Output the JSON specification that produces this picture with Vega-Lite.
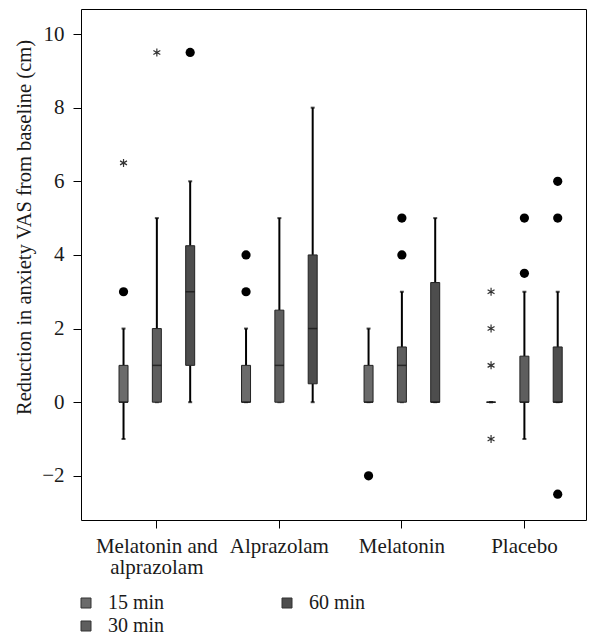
{
  "$schema": "https://vega.github.io/schema/vega-lite/v6.json",
  "autosize": {"type": "none"},
  "width": 505,
  "height": 511,
  "padding": {"left": 81, "top": 9, "right": 11, "bottom": 119},
  "background": "white",
  "config": {
    "font": "Liberation Serif",
    "view": {"stroke": "#000", "strokeWidth": 1},
    "axis": {"domain": false, "grid": false, "tickColor": "#000", "labelColor": "#1a1a1a", "titleColor": "#1a1a1a", "titleFontWeight": "normal", "labelFont": "Liberation Serif", "titleFont": "Liberation Serif"},
    "legend": {"labelColor": "#1a1a1a", "labelFont": "Liberation Serif"}
  },
  "datasets": {
    "boxes": [
      {"group": "Melatonin and alprazolam", "time": "15 min", "lower": -1, "q1": 0, "median": 0, "q3": 1, "upper": 2},
      {"group": "Melatonin and alprazolam", "time": "30 min", "lower": 0, "q1": 0, "median": 1, "q3": 2, "upper": 5},
      {"group": "Melatonin and alprazolam", "time": "60 min", "lower": 0, "q1": 1, "median": 3, "q3": 4.25, "upper": 6},
      {"group": "Alprazolam", "time": "15 min", "lower": 0, "q1": 0, "median": 0, "q3": 1, "upper": 2},
      {"group": "Alprazolam", "time": "30 min", "lower": 0, "q1": 0, "median": 1, "q3": 2.5, "upper": 5},
      {"group": "Alprazolam", "time": "60 min", "lower": 0, "q1": 0.5, "median": 2, "q3": 4, "upper": 8},
      {"group": "Melatonin", "time": "15 min", "lower": 0, "q1": 0, "median": 0, "q3": 1, "upper": 2},
      {"group": "Melatonin", "time": "30 min", "lower": 0, "q1": 0, "median": 1, "q3": 1.5, "upper": 3},
      {"group": "Melatonin", "time": "60 min", "lower": 0, "q1": 0, "median": 0, "q3": 3.25, "upper": 5},
      {"group": "Placebo", "time": "15 min", "lower": 0, "q1": 0, "median": 0, "q3": 0, "upper": 0},
      {"group": "Placebo", "time": "30 min", "lower": -1, "q1": 0, "median": 0, "q3": 1.25, "upper": 3},
      {"group": "Placebo", "time": "60 min", "lower": 0, "q1": 0, "median": 0, "q3": 1.5, "upper": 3}
    ],
    "outliers": [
      {"group": "Melatonin and alprazolam", "time": "15 min", "value": 3, "kind": "o"},
      {"group": "Melatonin and alprazolam", "time": "15 min", "value": 6.5, "kind": "*"},
      {"group": "Melatonin and alprazolam", "time": "30 min", "value": 9.5, "kind": "*"},
      {"group": "Melatonin and alprazolam", "time": "60 min", "value": 9.5, "kind": "o"},
      {"group": "Alprazolam", "time": "15 min", "value": 3, "kind": "o"},
      {"group": "Alprazolam", "time": "15 min", "value": 4, "kind": "o"},
      {"group": "Melatonin", "time": "15 min", "value": -2, "kind": "o"},
      {"group": "Melatonin", "time": "30 min", "value": 4, "kind": "o"},
      {"group": "Melatonin", "time": "30 min", "value": 5, "kind": "o"},
      {"group": "Placebo", "time": "15 min", "value": 3, "kind": "*"},
      {"group": "Placebo", "time": "15 min", "value": 2, "kind": "*"},
      {"group": "Placebo", "time": "15 min", "value": 1, "kind": "*"},
      {"group": "Placebo", "time": "15 min", "value": -1, "kind": "*"},
      {"group": "Placebo", "time": "30 min", "value": 3.5, "kind": "o"},
      {"group": "Placebo", "time": "30 min", "value": 5, "kind": "o"},
      {"group": "Placebo", "time": "60 min", "value": 5, "kind": "o"},
      {"group": "Placebo", "time": "60 min", "value": 6, "kind": "o"},
      {"group": "Placebo", "time": "60 min", "value": -2.5, "kind": "o"}
    ]
  },
  "encoding": {
    "x": {
      "field": "group", "type": "nominal",
      "sort": ["Melatonin and alprazolam", "Alprazolam", "Melatonin", "Placebo"],
      "scale": {"paddingInner": 0.184, "paddingOuter": 0.153, "align": 0.69},
      "axis": {
        "title": null, "labelAngle": 0, "labelFontSize": 21, "tickSize": 8, "labelPadding": 7,
        "labelLineHeight": 21,
        "labelExpr": "datum.value == 'Melatonin and alprazolam' ? ['Melatonin and', 'alprazolam'] : datum.label"
      }
    },
    "xOffset": {
      "field": "time", "type": "nominal",
      "scale": {"domain": ["15 min", "30 min", "60 min"], "paddingInner": 0, "paddingOuter": 0}
    }
  },
  "layer": [
    {
      "data": {"name": "boxes"},
      "mark": {"type": "rule", "color": "#000", "strokeWidth": 2},
      "encoding": {
        "y": {"field": "lower", "type": "quantitative",
          "scale": {"domain": [-3.2, 10.68], "nice": false, "zero": false},
          "axis": {"values": [-2, 0, 2, 4, 6, 8, 10], "labelFontSize": 21, "tickSize": 8, "labelPadding": 9,
            "labelExpr": "datum.value < 0 ? '\u2212' + abs(datum.value) : datum.label",
            "title": "Reduction in anxiety VAS from baseline (cm)", "titleFontSize": 20.5, "titlePadding": 7, "titleY": 218}},
        "y2": {"field": "q1"}
      }
    },
    {
      "data": {"name": "boxes"},
      "mark": {"type": "rule", "color": "#000", "strokeWidth": 2},
      "encoding": {
        "y": {"field": "q3", "type": "quantitative"},
        "y2": {"field": "upper"}
      }
    },
    {
      "data": {"name": "boxes"},
      "mark": {"type": "tick", "color": "#000", "size": 4, "thickness": 2},
      "encoding": {"y": {"field": "lower", "type": "quantitative"}}
    },
    {
      "data": {"name": "boxes"},
      "mark": {"type": "tick", "color": "#000", "size": 4, "thickness": 2},
      "encoding": {"y": {"field": "upper", "type": "quantitative"}}
    },
    {
      "data": {"name": "boxes"},
      "mark": {"type": "bar", "width": 9, "stroke": "#222", "strokeWidth": 1},
      "encoding": {
        "y": {"field": "q1", "type": "quantitative"},
        "y2": {"field": "q3"},
        "fill": {
          "field": "time", "type": "nominal",
          "scale": {"domain": ["15 min", "60 min", "30 min"], "range": ["#6b6b6b", "#4d4d4d", "#5e5e5e"]},
          "legend": {
            "title": null, "orient": "none", "legendX": -5, "legendY": 584, "direction": "horizontal", "columns": 2,
            "symbolType": "square", "symbolSize": 100, "symbolStrokeColor": "#333", "symbolStrokeWidth": 1,
            "labelFontSize": 20, "labelOffset": 12, "columnPadding": 112, "rowPadding": 3, "padding": 0
          }
        }
      }
    },
    {
      "data": {"name": "boxes"},
      "mark": {"type": "tick", "color": "#111", "size": 9, "thickness": 1.5},
      "encoding": {"y": {"field": "median", "type": "quantitative"}}
    },
    {
      "data": {"name": "outliers"},
      "transform": [{"filter": "datum.kind == 'o'"}],
      "mark": {"type": "point", "shape": "circle", "filled": true, "color": "#000", "size": 85, "opacity": 1},
      "encoding": {"y": {"field": "value", "type": "quantitative"}}
    },
    {
      "data": {"name": "outliers"},
      "transform": [{"filter": "datum.kind == '*'"}],
      "mark": {"type": "point", "shape": "M0,-1L0,1M-0.866,-0.5L0.866,0.5M-0.866,0.5L0.866,-0.5", "filled": false, "stroke": "#333", "strokeWidth": 1.2, "size": 64, "opacity": 1},
      "encoding": {"y": {"field": "value", "type": "quantitative"}}
    }
  ]
}
